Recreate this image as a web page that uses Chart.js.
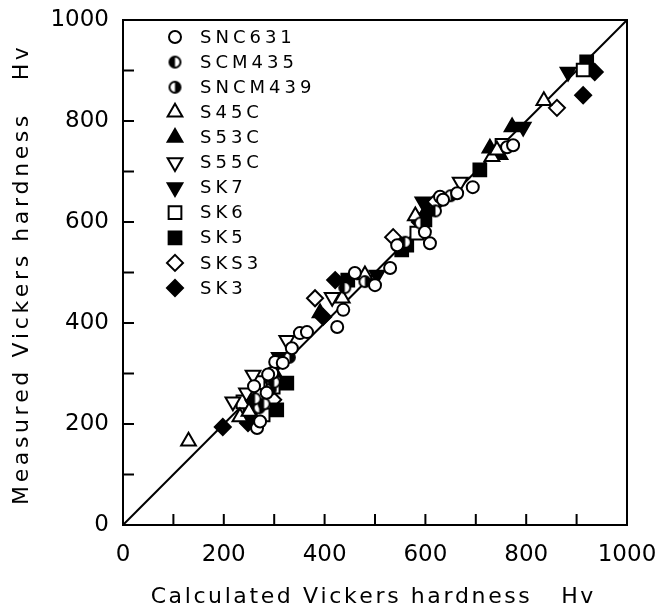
<!DOCTYPE html>
<html>
<head>
<meta charset="utf-8">
<script src="https://cdn.jsdelivr.net/npm/chart.js@4/dist/chart.umd.min.js"></script>
<style>
  body { margin: 0; background: #fff; }
  canvas { display: block; }
</style>
</head>
<body>
<canvas id="hvChart" width="661" height="614" style="width:661px;height:614px"></canvas>
<script>
// axis ticks (values)
const axisTicks = [0, 100, 200, 300, 400, 500, 600, 700, 800, 900, 1000];
const labelTicks = [0, 200, 400, 600, 800, 1000];

// steel grades, in legend order
const grades = ['SNC631', 'SCM435', 'SNCM439', 'S45C', 'S53C', 'S55C', 'SK7', 'SK6', 'SK5', 'SKS3', 'SK3'];

// [calculated Hv, measured Hv]
const snc631 = [[266,192],[296,301],[302,323],[317,321],[335,350],[351,380],[365,382],[425,392],[437,426],[460,499],[500,475],[530,509],[544,554],[599,580],[609,558],[629,650],[635,644],[663,657],[694,669],[762,748],[260,275],[285,262],[774,752],[272,205],[288,298]];
const scm435 = [[280,240],[300,283],[440,470],[560,560],[620,622],[262,250]];
const sncm439 = [[270,232],[330,332],[480,482],[590,598],[650,652],[292,268]];
const s45c = [[130,166],[232,214],[435,449],[480,495],[732,729],[742,742],[835,840],[580,612],[250,225]];
const s53c = [[391,420],[748,733],[772,788],[728,746],[603,624],[300,302],[255,232]];
const s55c = [[218,244],[258,297],[325,366],[415,451],[669,679],[245,262]];
const sk7 = [[883,897],[794,788],[504,495],[595,640],[310,332],[258,238]];
const sk6 = [[913,901],[298,273],[278,218],[583,578],[238,244],[752,752],[268,282]];
const sk5 = [[920,917],[325,281],[305,228],[446,485],[708,703],[553,545],[563,554],[599,604],[252,215]];
const sks3 = [[861,826],[381,449],[536,570],[298,248],[620,640]];
const sk3 = [[198,194],[421,485],[913,851],[936,897],[589,600],[248,202],[397,412]];

// y = x reference line
const diagonal = [[0,0],[1000,1000]];

const FONT = "'DejaVu Sans', sans-serif";

// half filled circle markers
function halfCircle(side) {
  const c = document.createElement('canvas');
  c.width = 15; c.height = 15;
  const g = c.getContext('2d');
  g.lineWidth = 2;
  g.fillStyle = '#fff';
  g.beginPath(); g.arc(7.5, 7.5, 5.5, 0, Math.PI * 2); g.fill();
  g.fillStyle = '#000';
  g.beginPath();
  if (side === 'left') g.arc(7.5, 7.5, 5.5, Math.PI / 2, Math.PI * 1.5);
  else g.arc(7.5, 7.5, 5.5, -Math.PI / 2, Math.PI / 2);
  g.closePath(); g.fill();
  g.beginPath(); g.arc(7.5, 7.5, 5.5, 0, Math.PI * 2); g.stroke();
  return c;
}

const toXY = arr => arr.map(p => ({ x: p[0], y: p[1] }));

function pts(label, data, style, filled, radius, rotation) {
  return {
    label: label,
    type: 'scatter',
    data: toXY(data),
    pointStyle: style,
    pointRotation: rotation || 0,
    pointRadius: radius,
    pointBorderWidth: 2,
    pointBorderColor: '#000',
    pointBackgroundColor: filled ? '#000' : '#fff',
    order: 1
  };
}

const datasets = [
  pts(grades[0], snc631, 'circle', false, 6),
  pts(grades[1], scm435, halfCircle('left'), true, 6),
  pts(grades[2], sncm439, halfCircle('right'), true, 6),
  pts(grades[3], s45c, 'triangle', false, 8.5),
  pts(grades[4], s53c, 'triangle', true, 8.5),
  pts(grades[5], s55c, 'triangle', false, 8.5, 180),
  pts(grades[6], sk7, 'triangle', true, 8.5, 180),
  pts(grades[7], sk6, 'rect', false, 9),
  pts(grades[8], sk5, 'rect', true, 9),
  pts(grades[9], sks3, 'rectRot', false, 8),
  pts(grades[10], sk3, 'rectRot', true, 8),
  {
    label: 'diagonal',
    type: 'line',
    data: toXY(diagonal),
    borderColor: '#000',
    borderWidth: 2,
    pointRadius: 0,
    order: 100
  }
];

// draw one legend marker the same way Chart.js does
function drawMarker(ctx, ds, x, y) {
  const st = ds.pointStyle;
  const r = ds.pointRadius;
  ctx.save();
  ctx.translate(x, y);
  if (typeof st !== 'string') {
    ctx.drawImage(st, -st.width / 2, -st.height / 2);
    ctx.restore();
    return;
  }
  ctx.rotate((ds.pointRotation || 0) * Math.PI / 180);
  ctx.beginPath();
  if (st === 'circle') {
    ctx.arc(0, 0, r, 0, Math.PI * 2);
  } else if (st === 'triangle') {
    for (let i = 0; i < 3; i++) {
      const a = i * 2 * Math.PI / 3;
      const px = Math.sin(a) * r, py = -Math.cos(a) * r;
      if (i === 0) ctx.moveTo(px, py); else ctx.lineTo(px, py);
    }
  } else if (st === 'rect') {
    const s = Math.SQRT1_2 * r;
    ctx.rect(-s, -s, 2 * s, 2 * s);
  } else if (st === 'rectRot') {
    ctx.moveTo(-r, 0); ctx.lineTo(0, -r); ctx.lineTo(r, 0); ctx.lineTo(0, r);
  }
  ctx.closePath();
  ctx.fillStyle = ds.pointBackgroundColor;
  ctx.fill();
  ctx.lineWidth = 2;
  ctx.strokeStyle = '#000';
  ctx.stroke();
  ctx.restore();
}

// draw text letter by letter so the spacing is the same everywhere
function spacedText(ctx, text, cx, cy, spacing) {
  ctx.letterSpacing = '0px';
  ctx.textAlign = 'left';
  const widths = [...text].map(ch => ctx.measureText(ch).width);
  const total = widths.reduce((s, w) => s + w, 0) + spacing * (widths.length - 1);
  let x = cx - total / 2;
  [...text].forEach((ch, i) => {
    ctx.fillText(ch, x, cy);
    x += widths[i] + spacing;
  });
}

const framePlugin = {
  id: 'frame',
  afterDraw(chart) {
    const ctx = chart.ctx;
    const a = chart.chartArea;
    const xs = chart.scales.x, ys = chart.scales.y;
    ctx.save();
    ctx.strokeStyle = '#000';
    ctx.lineWidth = 2;
    ctx.strokeRect(a.left, a.top, a.right - a.left, a.bottom - a.top);
    // inward tick marks on left and bottom
    axisTicks.forEach(v => {
      const px = xs.getPixelForValue(v);
      const py = ys.getPixelForValue(v);
      ctx.beginPath();
      ctx.moveTo(px, a.bottom); ctx.lineTo(px, a.bottom - 11);
      ctx.moveTo(a.left, py); ctx.lineTo(a.left + 11, py);
      ctx.stroke();
    });

    // legend inside plot
    ctx.fillStyle = '#000';
    ctx.font = '18px ' + FONT;
    ctx.textBaseline = 'middle';
    ctx.textAlign = 'left';
    ctx.letterSpacing = '4px';
    chart.data.datasets.forEach((ds, i) => {
      if (ds.type === 'line') return;
      const y = 37 + i * 25.1;
      drawMarker(ctx, ds, 175, y);
      ctx.fillStyle = '#000';
      ctx.fillText(ds.label, 200, y + 1);
    });

    // axis titles
    ctx.font = '22px ' + FONT;
    spacedText(ctx, 'Calculated Vickers hardness   Hv', 372, 597, 2.6);
    ctx.translate(22, 276);
    ctx.rotate(-Math.PI / 2);
    spacedText(ctx, 'Measured Vickers hardness   Hv', 0, 0, 3.6);
    ctx.restore();
  }
};

const tickFont = { family: FONT, size: 23 };

new Chart(document.getElementById('hvChart'), {
  type: 'scatter',
  data: { datasets: datasets },
  options: {
    responsive: false,
    animation: false,
    layout: { padding: { top: 20, right: 34, left: 0, bottom: 0 } },
    plugins: { legend: { display: false }, tooltip: { enabled: false } },
    scales: {
      x: {
        type: 'linear', min: 0, max: 1000,
        afterBuildTicks: s => { s.ticks = labelTicks.map(v => ({ value: v })); },
        ticks: { color: '#000', font: tickFont, padding: 16, maxRotation: 0, callback: v => String(v) },
        grid: { display: false, drawTicks: false },
        border: { display: false },
        afterFit: s => { s.height = 89; s.paddingLeft = 0; s.paddingRight = 0; }
      },
      y: {
        type: 'linear', min: 0, max: 1000,
        afterBuildTicks: s => { s.ticks = labelTicks.map(v => ({ value: v })); },
        ticks: { color: '#000', font: tickFont, padding: 14, callback: v => String(v) },
        grid: { display: false, drawTicks: false },
        border: { display: false },
        afterFit: s => { s.width = 123; s.paddingTop = 0; s.paddingBottom = 0; }
      }
    }
  },
  plugins: [framePlugin]
});
</script>
</body>
</html>
